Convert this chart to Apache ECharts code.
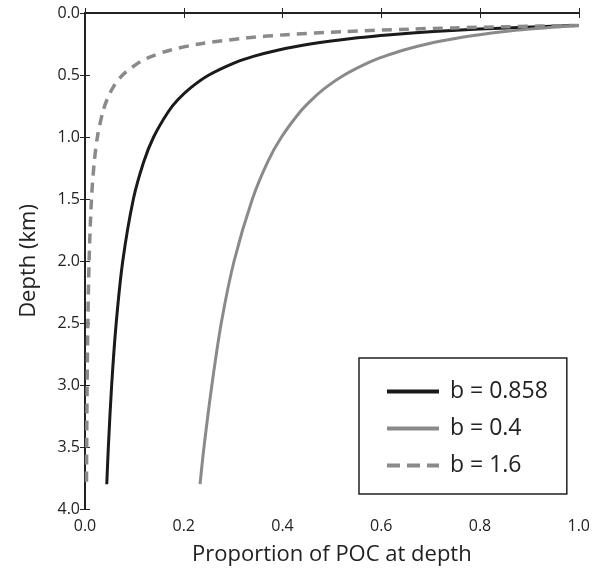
<!DOCTYPE html>
<html>
<head>
<meta charset="utf-8">
<script src="https://cdn.jsdelivr.net/npm/echarts@6/dist/echarts.min.js"></script>
<style>
  html, body { margin: 0; padding: 0; background: #fff; }
  #main { width: 593px; height: 574px; }
</style>
</head>
<body>
<div id="main"></div>
<script>
// depth (km) at which each curve was read
var depths = [0.1, 0.11, 0.12, 0.13, 0.15, 0.175, 0.2, 0.25, 0.3, 0.35, 0.4, 0.5, 0.6, 0.7, 0.8, 1.0, 1.2, 1.5, 2.0, 2.5, 3.0, 3.5, 3.8];

// proportion of POC remaining at those depths
var b0858 = [1.0, 0.921, 0.855, 0.798, 0.706, 0.619, 0.552, 0.456, 0.390, 0.341, 0.304, 0.251, 0.215, 0.188, 0.168, 0.139, 0.119, 0.098, 0.0765, 0.0632, 0.054, 0.0473, 0.0441];
var b04 = [1.0, 0.963, 0.930, 0.900, 0.850, 0.799, 0.758, 0.693, 0.644, 0.606, 0.574, 0.525, 0.488, 0.459, 0.435, 0.398, 0.370, 0.339, 0.302, 0.276, 0.257, 0.241, 0.233];
var b16 = [1.0, 0.859, 0.747, 0.657, 0.523, 0.408, 0.330, 0.231, 0.172, 0.135, 0.109, 0.0762, 0.0569, 0.0445, 0.0359, 0.0251, 0.0188, 0.0131, 0.0083, 0.0058, 0.0043, 0.0034, 0.003];

var seriesNames = ['b = 0.858', 'b = 0.4', 'b = 1.6'];

function pairs(vals) {
  var out = [];
  for (var i = 0; i < vals.length; i++) {
    out.push([vals[i], depths[i]]);
  }
  return out;
}

var font = '"Open Sans", "Noto Sans", sans-serif';
var ink = '#222';
var chart = echarts.init(document.getElementById('main'));

var option = {
  animation: false,
  textStyle: { fontFamily: font },
  grid: { left: 85, right: 12, top: 13, bottom: 65 },
  legend: {
    orient: 'vertical',
    left: 359,
    top: 358,
    padding: [22, 19, 17, 26],
    itemWidth: 52,
    itemHeight: 14,
    itemGap: 14,
    borderColor: ink,
    borderWidth: 1.5,
    itemStyle: { opacity: 0 },
    lineStyle: { width: 4 },
    textStyle: { fontSize: 23, color: ink, fontFamily: font, padding: [0, 0, 0, 6] },
    data: [
      { name: seriesNames[0] },
      { name: seriesNames[1] },
      { name: seriesNames[2], lineStyle: { width: 4, type: [13, 7] } }
    ]
  },
  xAxis: [{
    type: 'value',
    min: 0,
    max: 1,
    interval: 0.2,
    name: 'Proportion of POC at depth',
    nameLocation: 'middle',
    nameGap: 35,
    nameTextStyle: { fontSize: 22, color: ink },
    axisLine: { lineStyle: { color: ink, width: 2 } },
    axisTick: { inside: true, length: 5, lineStyle: { color: ink } },
    axisLabel: {
      fontSize: 16, color: ink, margin: 9,
      formatter: function (v) { return v.toFixed(1); }
    },
    splitLine: { show: false }
  }, {
    type: 'value',
    position: 'top',
    min: 0,
    max: 1,
    interval: 0.2,
    axisLine: { lineStyle: { color: ink, width: 2 } },
    axisTick: { inside: true, length: 5, lineStyle: { color: ink } },
    axisLabel: { show: false },
    splitLine: { show: false }
  }],
  yAxis: [{
    type: 'value',
    inverse: true,
    min: 0,
    max: 4,
    interval: 0.5,
    name: 'Depth (km)',
    nameLocation: 'middle',
    nameGap: 45,
    nameTextStyle: { fontSize: 22, color: ink },
    axisLine: { lineStyle: { color: ink, width: 2 } },
    axisTick: { inside: true, length: 5, lineStyle: { color: ink } },
    axisLabel: {
      fontSize: 16, color: ink, margin: 5,
      formatter: function (v) { return v.toFixed(1); }
    },
    splitLine: { show: false }
  }, {
    type: 'value',
    position: 'right',
    inverse: true,
    min: 0,
    max: 4,
    interval: 0.5,
    axisLine: { lineStyle: { color: ink, width: 2 } },
    axisTick: { inside: true, length: 5, lineStyle: { color: ink } },
    axisLabel: { show: false },
    splitLine: { show: false }
  }],
  series: [{
    name: seriesNames[0],
    type: 'line',
    symbol: 'none',
    smooth: 0.3,
    data: pairs(b0858),
    itemStyle: { color: '#1a1a1a' },
    lineStyle: { color: '#1a1a1a', width: 3 }
  }, {
    name: seriesNames[1],
    type: 'line',
    symbol: 'none',
    smooth: 0.3,
    data: pairs(b04),
    itemStyle: { color: '#8a8a8a' },
    lineStyle: { color: '#8a8a8a', width: 3 }
  }, {
    name: seriesNames[2],
    type: 'line',
    symbol: 'none',
    smooth: 0.3,
    data: pairs(b16),
    itemStyle: { color: '#8a8a8a' },
    lineStyle: { color: '#8a8a8a', width: 3.5, type: [10, 7] }
  }]
};

chart.setOption(option);
</script>
</body>
</html>
